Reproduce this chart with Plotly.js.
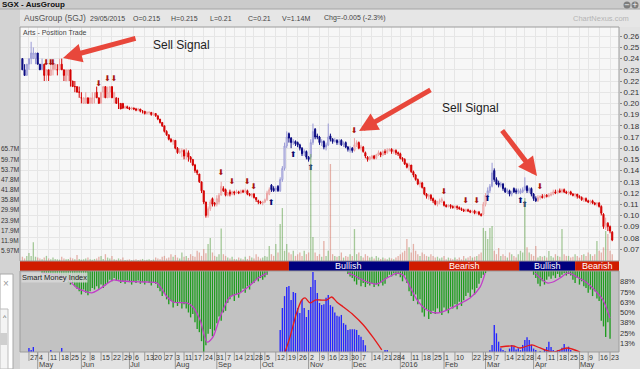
<!DOCTYPE html>
<html><head><meta charset="utf-8">
<script src="https://cdn.plot.ly/plotly-3.0.1.min.js"></script>
<style>html,body{margin:0;padding:0;background:#e2e2e2;overflow:hidden}#chart{width:640px;height:369px}</style>
</head><body><div id="chart"></div>
<script>
// ---------- DATA (x = trading-day index, 0 = 27 Apr 2015) ----------
const firstIdx = -3;
// prices in thousandths of a dollar, grouped 10 per row starting at idx -3
const openP = [
240,230,225,235,240,240,240,245,235,230, 235,225,230,225,230,230,230,230,235,230,
220,225,230,220,215,215,210,205,200,200, 205,200,200,205,210,205,200,210,215,205,
210,215,205,205,200,200,200,196,197,196, 195,196,195,194,195,193,193,191,192,192,
190,191,189,186,183,180,175,172,168,166, 167,160,156,157,158,153,156,152,150,145,
140,137,130,122,112,100,106,115,111,110, 112,118,124,123,118,121,119,121,120,121,
120,122,121,122,119,118,119,116,113,112, 111,112,114,119,127,124,123,126,122,132,
142,162,173,169,165,166,165,163,160,156, 157,152,152,165,177,171,170,165,166,161,
163,171,168,166,167,165,167,163,165,161, 158,160,158,163,165,160,161,156,152,150,
151,153,151,154,156,154,157,156,158,159, 157,158,156,155,151,150,146,144,145,139,
136,132,128,129,125,119,117,118,115,113, 110,112,113,112,109,108,109,108,107,108,
107,106,105,104,105,104,103,104,102,103, 101,101,110,117,122,126,140,132,129,127,
128,124,121,122,119,124,122,121,120,121, 123,126,122,124,119,115,113,116,117,116,
118,117,118,119,121,120,122,121,123,121, 120,121,119,118,119,117,116,114,115,113,
112,113,111,110,111,108,101,89,93,90,85];
const highP = [
240,235,235,240,255,250,245,245,235,240, 235,230,230,235,235,235,235,240,240,230,
230,230,230,220,220,215,215,210,205,210, 205,205,210,210,215,205,210,215,215,215,
215,215,210,205,205,200,200,198,198,197, 197,196,196,196,195,194,193,193,193,192,
192,191,189,186,183,180,176,172,169,168, 167,161,160,160,159,160,158,153,150,146,
141,137,130,122,112,108,114,116,112,118, 120,130,126,124,121,123,122,122,123,122,
123,123,124,123,120,120,120,116,114,113, 113,115,122,125,128,126,126,127,134,144,
165,175,174,170,168,167,166,164,161,159, 158,153,168,182,178,173,171,168,167,165,
182,173,169,169,168,168,168,166,166,162, 162,161,169,167,166,163,162,157,153,153,
154,154,155,158,157,158,159,160,160,160, 159,159,157,156,152,151,147,147,145,140,
137,133,131,130,125,120,119,119,116,114, 113,115,116,113,110,110,110,109,109,109,
108,107,106,106,106,105,105,105,104,104, 102,112,120,125,128,147,142,134,131,130,
129,125,124,123,122,125,124,124,124,125, 134,127,125,125,120,117,118,118,119,119,
119,120,121,123,123,123,124,124,124,122, 122,122,120,120,119,118,117,116,116,114,
114,114,112,112,112,109,102,98,94,91,86];
const lowP = [
230,225,225,230,235,240,235,235,230,230, 220,220,220,225,225,230,225,230,230,220,
220,220,215,215,210,210,205,200,200,200, 200,200,200,200,205,200,200,205,205,205,
205,205,200,200,195,195,195,195,195,194, 194,194,193,193,192,191,190,190,190,189,
189,188,185,182,179,174,171,167,165,163, 159,155,155,152,150,150,148,147,144,138,
136,129,120,110,98,98,104,108,108,108, 110,118,121,117,117,117,118,118,119,119,
119,120,120,118,117,116,115,112,110,110, 109,111,113,118,121,121,121,121,121,130,
140,160,165,160,163,162,161,158,153,153, 150,148,150,163,168,168,163,162,159,158,
162,166,164,165,163,163,162,161,160,157, 156,156,157,161,159,158,156,151,148,149,
150,150,150,153,152,153,154,155,157,155, 155,154,153,150,148,145,142,140,138,134,
131,127,125,124,118,115,114,113,111,109, 108,110,111,108,107,107,106,106,106,105,
105,104,103,103,103,102,102,101,101,100, 99,100,108,115,120,125,130,127,125,125,
122,120,119,117,117,120,119,119,119,120, 122,120,120,117,113,112,112,114,115,115,
116,116,117,118,119,119,120,120,120,119, 118,118,117,116,115,115,113,112,112,111,
110,110,109,108,107,100,88,87,86,84,77];
const closeP = [
230,225,235,240,245,245,245,235,230,235, 225,230,225,230,235,235,230,235,230,225,
230,230,220,215,215,210,210,205,205,205, 200,205,205,205,205,200,210,215,205,210,
215,205,210,200,200,195,196,197,196,195, 196,195,194,195,193,193,191,192,192,190,
191,189,186,183,180,175,172,168,166,167, 160,156,157,158,153,156,152,150,145,140,
138,130,122,112,100,106,112,110,110,115, 118,126,122,118,120,119,121,120,121,120,
122,121,122,119,118,119,116,114,112,111, 112,114,120,123,123,122,124,122,132,142,
162,170,169,165,166,164,163,160,155,157, 152,150,165,175,170,170,165,166,161,163,
170,168,166,167,165,166,163,164,161,159, 160,158,163,165,160,161,157,153,150,152,
153,151,154,156,154,157,156,158,159,157, 158,156,155,151,150,146,143,145,139,136,
132,128,129,125,119,117,118,115,113,110, 112,113,114,109,108,109,108,107,108,107,
106,105,104,105,104,103,104,102,103,101, 100,110,118,122,126,138,132,128,127,128,
124,121,122,119,120,121,121,122,122,123, 126,122,124,119,115,113,116,117,116,118,
117,118,119,121,120,122,121,123,121,120, 121,119,118,119,117,116,114,115,113,112,
113,111,110,111,108,102,90,93,90,86,78];
// volume in millions
const volumeM = [
2.5,1.5,3,4.7,3,11,2.5,2,1.5,1, 2,3,1.5,1,2,1.2,1,0.8,2.5,1.5,
1,1.2,2,1.5,1,3.5,1.2,0.8,1,1.5, 2,1,0.8,1.2,1.5,2.5,3,1.2,4,2,
1.5,3,1,0.8,1.5,1,2,0.6,0.8,1, 0.5,0.7,1,0.6,0.8,1.2,0.5,0.7,1,0.6,
0.8,2,1.5,1,2.5,3,1.5,2,4,2.5, 3.5,2,1.5,5,2.5,3,1.8,4,3,2.5,
6,5,3,7,4.5,10,13.5,5,3,2.5, 4,19,4,3,2,1.5,2.5,1.2,1,2,
1.5,1,2.5,1.2,3,2,1.5,4,2.5,1.5, 2,3,2.5,8.8,4,3,10,5,21.7,31,
6,10,5,4,6,3,4,5,3,6, 4,5,62.6,14,5,3,4,2.5,11.7,3,
6,56.8,4,3,2.5,3,5,2,3,2.5, 4,3,18.7,4,5,3,2,4,3,2,
2.5,1.5,3,2,1.2,2,1.5,1,2,1.5, 1,2,3,4,5,6,12.9,8,5,10,
6,4,3,5,4,3,2.5,4,3,2, 2.5,1.5,2,3,1,2,1.5,1,2,1.2,
2,1,3,1.5,2,3,2,2.5,3,4, 5,19.3,17.6,12.9,19.3,20.5,6,4,7.6,3,
4,3,2,5,4,3,2,4,6,5, 36.9,8,5,4,3,8.8,2,3,2.5,3,
2,5.9,3,2,4,3,2.5,18.7,4,3, 3,2,2.5,4,3,2,3.5,4,3,5,
4,3,4,11.7,6,5,8,17.6,15.8,6,4];
// candle colour regime (bullish ranges of trading-day index)
const bullRanges = [[-3,6],[111,148],[210,232]];
// signal arrows
const sigDownIdx = [8,10,11,32,36,39,88,93,100,103,149,190,200,205,234];
const sigDownPrice = [0.2365,0.2365,0.2365,0.2169,0.2218,0.2218,0.1379,0.1298,0.1298,0.1255,0.1754,0.1209,0.1129,0.1129,0.1255];
const sigUpIdx = [111,121,129,210,225,227];
const sigUpPrice = [0.1111,0.1539,0.1423,0.1146,0.1129,0.1093];
// Smart Money Index: green bars (level %, hanging from top), by segment
const greenStart = [6,146,231];
const greenVals = [
 [98,97,96,98,95,97,94,96,95,93,95, 89,87,84,86,82, 79,76,72,78,74,71,76, 80,78,82,79,84,80,83,86,
  90,88,92,89,90, 86,88,85,89,87,84,88,86,89,85,87,84,88,86,83,87,85, 80,76,70,73,
  66,60,64,56,62,58,63,55,60, 55,50,44,48,38,30, 26,15,1,10, 24,30,21,28, 37,45,40,50,52,
  62,66,70,64,72,68, 75,79,74,82,78,85, 86,90,88,92,90,93,96],
 [97,94,92, 88,84,90,82,86,81, 85,83,86,81,84,82,86,83,85, 92,96,94,98,95,97, 93,88,95,86,
  76,70,64,72,60,66, 50,45,54,42,48,52, 48,55,50,47,56,52,49,57, 55,60,54,63,58,65,
  70,74,69,78,72,80, 85,92,96,98],
 [96,92,85,82,88,84, 90,94,91,95,92,97,93,96,98,95,97,95, 90,86,92,84,88,82, 80,74,78,70,76,67,
  64,40,33,20,38,18]
];
// blue bars (height %), by segment
const blueStart = [0,9,15,115,163,211];
const blueVals = [
 [6.7,4.3,7.9],[1.8,4.3],[6.7],
 [28.7,55.5,70,81.1,82.3,65.2,75,73.8,55.5,49.4,65.2,55.5,44.5,53,81.1,99.4,89.6,73.8,61.6,59.1,
  60,68,71.3,59,57,50,46,45,47,37,35,28.7,29.5,29.5,29.5,28.7,22.6,20.5,16.5,10,2.2],
 [4.3,4.3],
 [4,10.4,34.8,24.6,14.4,6.3,4.3,3,0,6,10.4,8.3,5,6.3,4,10.4,16.5,19.8,16.5,10.4,6,4.3,0,3,0,5,8,14.4,8,4.3,3,4,4.3,7,11.6,6,8.3,4.3]
];
// smoothed lines (idx, %)
const magX = [6,12,17,22,28.7,32.5,38.5,41.7,54,58.6,63.2,66,72.3,75.1,78.3,81.5,84.2,87.5,92,96.6,100.3,104.9,109,null,
  146,148.4,154.8,159.3,163.9,168.5,171.2,174.5,177.7,182.2,186.8,191.4,196,201.9,206.5,208.8,null,
  231.7,237.2,239.9,243.1,246.8,250.9,255.5,260.1,262.8,266];
const magY = [98,96,92,80,74,79,89.6,88.4,87.2,86,69,62.8,61.6,56.7,41,14,20,44.5,69,73.8,81,92,98,null,
  98,95.7,87.2,84.8,92,98,95.7,81,65.2,53,49.4,53,59,67.7,81,98,null,
  98,86,87.2,92,98.2,93.3,86,74,65,43];
const redX = [117.2,119.5,122.5,124.9,126.4,128.7,131,133.2,136.3,138.6,140.9,143.9,148.5,153.1,157.7,161.5,null,
  215.7,221.7,224.8,230.2,234,240.1,246.2,252.3];
const redY = [1.8,20,49.4,65.2,67.7,61.6,65.2,65.2,65.2,68.9,62.8,56.7,47,34.8,18.9,4.3,null,
  7.9,9.1,6.7,10.4,6.7,1.8,6.7,1.8];
// trend strip
const stripStart = [-4.1,119,174,224.4,250];
const stripEnd = [119,174,224.4,250,270.1];
const stripLabel = ['','Bullish','Bearish','Bullish','Bearish'];
// axes labels
const weekIdx = [0,4,9,14,19,24,28,33,38,43,48,53,57,62,67,71,75,80,85,90,94,99,103,108,113,118,123,128,133,137,142,147,152,157,162,166,170,175,180,185,190,195,203,208,213,218,223,227,232,237,242,247,252,256,261,266];
const weekLabels = ['27','4','11','18','25','2','8','15','22','29','6','13','20','27','3','11','17','24','31','7','14','21','28','5','12','19','26','2','9','16','23','30','7','14','21','28','4','11','18','25','1','10','22','29','7','14','21','28','4','11','18','25','3','9','16','23'];
const monthIdx = [4,24,46,67,86,106,128,148,170,190,209,231,252];
const monthLabels = ['May','Jun','Jul','Aug','Sep','Oct','Nov','Dec','2016','Feb','Mar','Apr','May'];
const priceTicks = [0.07,0.08,0.09,0.10,0.11,0.12,0.13,0.14,0.15,0.16,0.17,0.18,0.19,0.20,0.21,0.22,0.23,0.24,0.25,0.26,0.27];
const volTicks = [5.97,11.9,17.9,23.9,29.9,35.8,41.8,47.8,53.7,59.7,65.7];
const smiTicks = [12.5,25,37.5,50,62.5,75,87.5];
const smiTickText = ['13%','25%','38%','50%','63%','75%','88%'];
const header = [['AusGroup (5GJ)',22,8.5,'#555'],['29/05/2015',88,7,'#444'],['O=0.215',131,7,'#444'],['H=0.215',169,7,'#444'],
  ['L=0.21',208,7,'#444'],['C=0.21',246,7,'#444'],['V=1.14M',280,7,'#444'],['Chg=-0.005 (-2.3%)',322,7,'#444'],['ChartNexus.com',571,7.5,'#b5b5b5']];

// ---------- BUILD ----------
const W=640,H=369, px=v=>v/W, py=v=>1-v/H;
const FONT='Liberation Sans, Arial, sans-serif';
const idx = closeP.map((_,k)=>firstIdx+k);
const isBull = i => bullRanges.some(r=>i>=r[0]&&i<=r[1]);
const bull={x:[],o:[],h:[],l:[],c:[]}, bear={x:[],o:[],h:[],l:[],c:[]};
idx.forEach((i,k)=>{const g=isBull(i)?bull:bear; g.x.push(i); g.o.push(openP[k]/1000); g.h.push(highP[k]/1000); g.l.push(lowP[k]/1000); g.c.push(closeP[k]/1000);});

const traces=[];
traces.push({type:'bar',x:idx,y:volumeM.map(v=>v*1e6),xaxis:'x',yaxis:'y3',width:0.6,
  marker:{color:idx.map((_,k)=>closeP[k]>=openP[k]?'rgba(110,170,90,0.6)':'rgba(215,130,115,0.6)'),line:{width:0}},hoverinfo:'skip'});
traces.push({type:'candlestick',x:bear.x,open:bear.o,high:bear.h,low:bear.l,close:bear.c,xaxis:'x',yaxis:'y',whiskerwidth:0,
  increasing:{line:{color:'#eba3a3',width:1},fillcolor:'#f7f7f7'},decreasing:{line:{color:'#d40000',width:1},fillcolor:'#d40000'},hoverinfo:'skip'});
traces.push({type:'candlestick',x:bull.x,open:bull.o,high:bull.h,low:bull.l,close:bull.c,xaxis:'x',yaxis:'y',whiskerwidth:0,
  increasing:{line:{color:'#9a9ad6',width:1},fillcolor:'#f7f7f7'},decreasing:{line:{color:'#0a0a82',width:1},fillcolor:'#0a0a82'},hoverinfo:'skip'});
traces.push({type:'scatter',mode:'text',x:sigDownIdx,y:sigDownPrice,text:sigDownIdx.map(()=>'⬇'),xaxis:'x',yaxis:'y',
  textfont:{family:'DejaVu Sans',size:8,color:'#a8140f'},hoverinfo:'skip'});
traces.push({type:'scatter',mode:'text',x:sigUpIdx,y:sigUpPrice,text:sigUpIdx.map(()=>'⬆'),xaxis:'x',yaxis:'y',
  textfont:{family:'DejaVu Sans',size:8,color:'#0a0a6e'},hoverinfo:'skip'});
// SMI
const gx=[],gb=[],gy=[];
greenStart.forEach((s,j)=>greenVals[j].forEach((v,k)=>{gx.push(s+k);gb.push(v);gy.push(100.6-v);}));
traces.push({type:'bar',x:gx,y:gy,base:gb,xaxis:'x2',yaxis:'y2',width:0.62,marker:{color:'#1f9c1f',line:{width:0}},hoverinfo:'skip'});
const bx=[],by=[];
blueStart.forEach((s,j)=>blueVals[j].forEach((v,k)=>{bx.push(s+k);by.push(v);}));
traces.push({type:'bar',x:bx,y:by,xaxis:'x2',yaxis:'y2',width:0.62,marker:{color:'#2525ff',line:{width:0}},hoverinfo:'skip'});
traces.push({type:'scatter',mode:'lines',x:magX,y:magY,xaxis:'x2',yaxis:'y2',line:{color:'#c23ec8',width:1.3,shape:'spline',smoothing:0.8},hoverinfo:'skip'});
traces.push({type:'scatter',mode:'lines',x:redX,y:redY,xaxis:'x2',yaxis:'y2',line:{color:'#e51a1a',width:1.3,shape:'spline',smoothing:0.8},hoverinfo:'skip'});

const shapes=[];
const rectP=(x0,y0,x1,y1,fill,line,layer)=>shapes.push({type:'rect',xref:'paper',yref:'paper',x0:px(x0),x1:px(x1),y0:py(y1),y1:py(y0),fillcolor:fill,line:line||{width:0},layer:layer||'below'});
rectP(0,0,640,9,'#cbcbcb');
rectP(0,9,20,369,'#d3d3d3');
rectP(20,9,640,27,'#e6e6e6');
rectP(20,271,619,352,'#c2c2c2');
// strip
stripStart.forEach((s,j)=>shapes.push({type:'rect',xref:'x',yref:'paper',x0:s,x1:stripEnd[j],y0:py(271),y1:py(261),
  fillcolor:stripLabel[j]==='Bullish'?'#00007e':'#d01c00',line:{width:0},layer:'above'}));
// x tick marks and month separators
weekIdx.forEach(v=>shapes.push({type:'line',xref:'x2',yref:'paper',x0:v,x1:v,y0:py(352),y1:py(361),line:{color:'#9a9a9a',width:1}}));
monthIdx.forEach(v=>shapes.push({type:'line',xref:'x2',yref:'paper',x0:v,x1:v,y0:py(352),y1:py(369),line:{color:'#9a9a9a',width:1}}));
// panel borders
rectP(20,27,619,261,'rgba(0,0,0,0)',{color:'#9c9c9c',width:1},'above');
rectP(20,271,619,352,'rgba(0,0,0,0)',{color:'#9c9c9c',width:1},'above');
shapes.push({type:'line',xref:'paper',yref:'paper',x0:0,x1:1,y0:py(9),y1:py(9),line:{color:'#a5a5a5',width:1}});
// title bar icons
[627,635].forEach(c=>shapes.push({type:'circle',xref:'paper',yref:'paper',x0:px(c-3.5),x1:px(c+3.5),y0:py(8.5),y1:py(1.5),fillcolor:'#7d7d7d',line:{width:0},layer:'above'}));
// dialog fragment bottom-left
rectP(0,274,13,369,'#ffffff',{color:'#a8a8a8',width:1},'above');
rectP(0,309,8,369,'#f4f4f4',{color:'#bdbdbd',width:1},'above');
rectP(0,333,7,345,'#cfcfcf',{width:0},'above');

const ann=[];
const txt=(t,x,y,size,color,extra)=>ann.push(Object.assign({text:t,xref:'paper',yref:'paper',x:px(x),y:py(y),xanchor:'left',yanchor:'middle',showarrow:false,font:{family:FONT,size:size,color:color}},extra||{}));
txt('<b>SGX - AusGroup</b>',0,4.5,8,'#111');
header.forEach(h=>txt(h[0],h[1],18,h[2],h[3]));
txt('Arts - Position Trade',21,32,7,'#444');
txt('Smart Money Index',21,277,7.5,'#222',{bgcolor:'rgba(215,215,215,0.85)',borderpad:0});
txt('Sell Signal',151,45,12,'#222');
txt('Sell Signal',440,108,12,'#222');
ann.push({text:'−',xref:'paper',yref:'paper',x:px(627),y:py(5),xanchor:'center',yanchor:'middle',showarrow:false,font:{family:'DejaVu Sans',size:7,color:'#fff'}});
ann.push({text:'+',xref:'paper',yref:'paper',x:px(635),y:py(5),xanchor:'center',yanchor:'middle',showarrow:false,font:{family:'DejaVu Sans',size:7,color:'#fff'}});
txt('×',1,283,10,'#9a9a9a');
txt('^',1,317,7,'#555');
// volume axis labels (right-aligned against the panel edge)
volTicks.forEach(v=>ann.push({text:v+'M',xref:'paper',yref:'y3',x:px(19.5),y:v*1e6,xanchor:'right',yanchor:'middle',showarrow:false,borderpad:0,
  font:{family:FONT,size:6.5,color:'#333'}}));
// strip labels
stripStart.forEach((s,j)=>{ if(stripLabel[j]) ann.push({text:stripLabel[j],xref:'x',yref:'paper',x:(s+stripEnd[j])/2,y:py(266),showarrow:false,
  font:{family:FONT,size:9,color:'#ffffff'},xanchor:'center',yanchor:'middle'});});
// week labels, drawn to the right of each tick
weekIdx.forEach((v,j)=>ann.push({text:weekLabels[j],xref:'x2',yref:'paper',x:v,y:py(357),xanchor:'left',yanchor:'middle',showarrow:false,borderpad:0,
  font:{family:FONT,size:7,color:'#333'}}));
// month labels
monthIdx.forEach((v,j)=>ann.push({text:monthLabels[j],xref:'x2',yref:'paper',x:v,y:py(364.5),xanchor:'left',yanchor:'middle',showarrow:false,borderpad:0,font:{family:FONT,size:7.5,color:'#444'}}));
// big red arrows
const arrow=(tx,ty,ax,ay)=>ann.push({text:'',xref:'paper',yref:'paper',x:px(tx),y:py(ty),ax:ax,ay:ay,showarrow:true,arrowhead:2,arrowsize:0.75,arrowwidth:5,arrowcolor:'#e8473b'});
arrow(63,58,74,-20);
arrow(359,131,73,-42);
arrow(537,176,-36,-47);

const xr=[-4.1,270.1];
const layout={width:W,height:H,margin:{l:0,r:0,t:0,b:0},paper_bgcolor:'#e2e2e2',plot_bgcolor:'#f7f7f7',showlegend:false,
  font:{family:FONT,size:8,color:'#333'},barmode:'overlay',
  xaxis:{domain:[px(20),px(619)],range:xr,anchor:'y',tickmode:'array',tickvals:weekIdx,showticklabels:false,ticks:'',showgrid:true,gridcolor:'#e6e6e6',zeroline:false,rangeslider:{visible:false},fixedrange:true},
  yaxis:{domain:[py(261),py(27)],range:[0.05929,0.26821],side:'right',anchor:'x',tickmode:'array',tickvals:priceTicks,ticktext:priceTicks.map(v=>v.toFixed(2)),
    showgrid:true,gridcolor:'#e6e6e6',zeroline:false,ticks:'outside',ticklen:2,tickcolor:'#888',tickfont:{size:8,color:'#333'},fixedrange:true},
  yaxis3:{overlaying:'y',side:'left',anchor:'x',range:[0,137e6],showticklabels:false,showgrid:false,zeroline:false,ticks:'',fixedrange:true},
  xaxis2:{domain:[px(20),px(619)],range:xr,anchor:'y2',showticklabels:false,ticks:'',showgrid:false,zeroline:false,fixedrange:true},
  yaxis2:{domain:[py(352),py(271)],range:[1.8,100.6],side:'right',anchor:'x2',tickmode:'array',tickvals:smiTicks,ticktext:smiTickText,
    showgrid:false,zeroline:false,ticks:'',tickfont:{size:7.5,color:'#333'},fixedrange:true},
  shapes:shapes,annotations:ann};
Plotly.newPlot('chart',traces,layout,{displayModeBar:false,staticPlot:true});
</script></body></html>
